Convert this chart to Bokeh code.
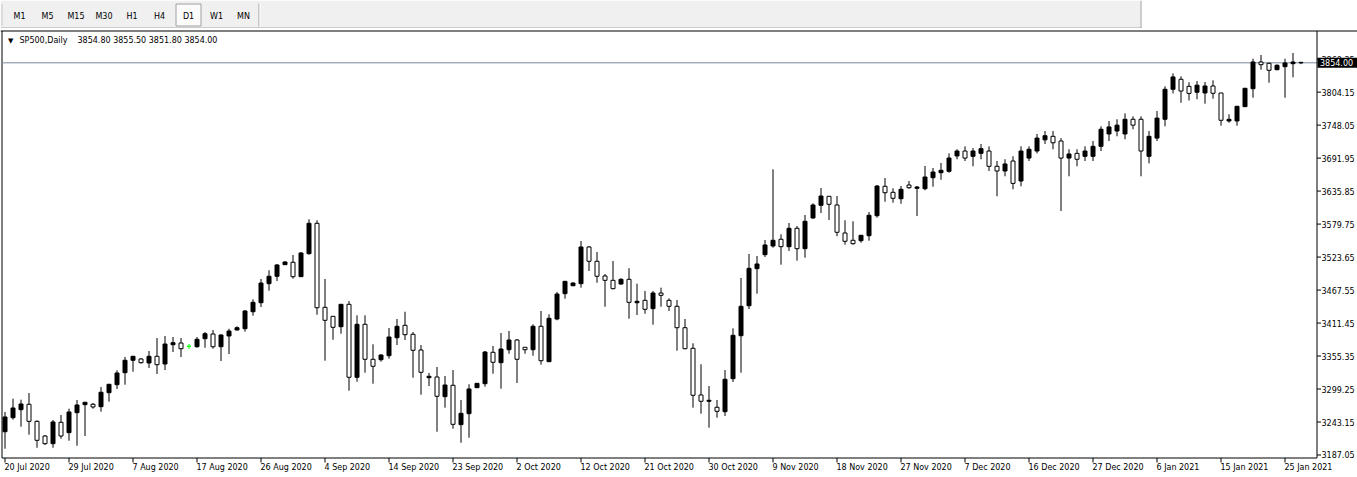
import numpy as np
from bokeh.plotting import figure
from bokeh.models import Range1d, ColumnDataSource
from bokeh.layouts import column
from bokeh.embed import file_html
from bokeh.resources import INLINE
from bokeh.core.properties import value

# ---------------- data ----------------
opens = [3226.6, 3250.5, 3264.1, 3273.3, 3244.3, 3219.3, 3206.3, 3242.6, 3225.0, 3259.0,
         3272.6, 3273.3, 3269.2, 3293.0, 3306.6, 3327.0, 3348.1, 3350.3, 3343.5, 3354.9,
         3341.8, 3374.6, 3377.5, 3371.9, 3371.2, 3384.8, 3392.8, 3371.2, 3389.4, 3399.6,
         3401.8, 3430.7, 3446.0, 3478.4, 3491.0, 3510.7, 3514.8, 3490.3, 3529.4, 3581.1,
         3438.2, 3422.9, 3405.2, 3443.3, 3319.2, 3409.3, 3349.8, 3349.1, 3355.9, 3386.5,
         3407.6, 3392.3, 3365.6, 3318.5, 3319.7, 3286.2, 3305.6, 3238.6, 3257.3, 3301.5,
         3308.3, 3361.7, 3344.0, 3366.1, 3382.6, 3370.2, 3366.1, 3405.9, 3345.7, 3418.3,
         3461.4, 3475.0, 3478.4, 3540.8, 3516.5, 3491.5, 3484.1, 3477.8, 3485.8, 3446.0,
         3450.1, 3435.9, 3462.5, 3450.1, 3439.9, 3403.5, 3368.5, 3289.1, 3278.4, 3268.2,
         3260.7, 3316.8, 3389.9, 3440.9, 3503.9, 3527.7, 3542.5, 3553.9, 3541.3, 3572.6,
         3537.9, 3590.1, 3611.7, 3627.0, 3612.2, 3564.6, 3552.2, 3551.5, 3560.0, 3594.0,
         3644.0, 3633.8, 3622.9, 3646.2, 3640.6, 3639.9, 3658.6, 3667.1, 3669.5, 3695.6,
         3704.0, 3695.0, 3700.0, 3704.0, 3678.0, 3670.0, 3687.0, 3653.0, 3692.0, 3704.0,
         3723.0, 3729.0, 3721.0, 3692.0, 3700.0, 3695.0, 3695.0, 3712.0, 3733.0, 3738.0,
         3733.0, 3758.0, 3758.0, 3695.0, 3726.0, 3758.0, 3809.0, 3826.0, 3814.0, 3804.0,
         3802.7, 3814.6, 3802.7, 3755.1, 3755.1, 3779.4, 3810.0, 3855.4, 3853.2, 3842.3,
         3847.4, 3852.5, 3854.8]
highs = [3260.2, 3282.8, 3281.1, 3292.5, 3246.0, 3221.0, 3246.6, 3255.1, 3265.8, 3280.6,
         3277.2, 3275.5, 3302.7, 3307.8, 3331.1, 3353.7, 3355.4, 3352.0, 3363.9, 3386.0,
         3389.4, 3387.7, 3386.0, 3375.8, 3387.7, 3396.2, 3399.6, 3392.3, 3401.8, 3405.9,
         3433.6, 3451.8, 3486.4, 3501.2, 3511.9, 3516.5, 3527.2, 3532.3, 3587.9, 3586.2,
         3486.4, 3422.9, 3443.3, 3448.9, 3424.6, 3424.6, 3375.3, 3358.3, 3403.0, 3418.3,
         3430.7, 3396.2, 3374.1, 3326.5, 3336.7, 3321.4, 3331.6, 3280.6, 3307.3, 3308.9,
         3363.9, 3372.4, 3394.5, 3397.9, 3384.3, 3370.2, 3409.3, 3431.9, 3426.3, 3464.2,
         3482.4, 3480.7, 3551.0, 3542.5, 3532.3, 3494.9, 3517.0, 3487.5, 3504.7, 3478.4,
         3466.0, 3466.0, 3471.6, 3453.5, 3450.6, 3418.3, 3377.0, 3341.3, 3304.4, 3280.6,
         3331.6, 3402.5, 3488.1, 3528.9, 3525.5, 3552.7, 3672.9, 3562.4, 3581.6, 3576.5,
         3595.2, 3615.1, 3641.1, 3627.5, 3627.5, 3586.2, 3584.5, 3560.7, 3600.3, 3646.2,
         3658.1, 3640.6, 3644.5, 3653.0, 3644.5, 3678.5, 3675.1, 3683.6, 3700.1, 3707.0,
         3712.0, 3709.0, 3716.0, 3712.0, 3687.0, 3690.0, 3695.0, 3712.0, 3712.0, 3733.0,
         3738.0, 3738.0, 3726.0, 3707.0, 3707.0, 3712.0, 3721.0, 3746.0, 3755.0, 3758.0,
         3768.0, 3763.0, 3763.0, 3738.0, 3772.0, 3814.0, 3836.0, 3831.0, 3821.0, 3823.0,
         3821.4, 3824.3, 3802.7, 3766.4, 3780.1, 3811.2, 3861.0, 3867.3, 3854.2, 3851.5,
         3861.0, 3870.7, 3855.5]
lows = [3197.7, 3247.1, 3235.2, 3221.6, 3199.4, 3204.0, 3199.4, 3214.8, 3211.3, 3202.8,
        3219.3, 3265.8, 3260.7, 3277.7, 3299.3, 3306.6, 3328.7, 3342.3, 3335.0, 3324.8,
        3331.6, 3362.2, 3353.7, 3367.3, 3369.5, 3369.5, 3367.8, 3346.9, 3358.8, 3399.1,
        3396.7, 3423.9, 3438.7, 3466.5, 3483.0, 3510.2, 3486.9, 3490.3, 3527.7, 3425.6,
        3347.4, 3383.1, 3393.3, 3296.4, 3311.7, 3327.0, 3308.3, 3345.7, 3350.8, 3374.1,
        3382.6, 3318.5, 3289.6, 3304.4, 3226.6, 3267.5, 3231.8, 3207.9, 3216.4, 3301.5,
        3303.2, 3325.3, 3299.8, 3359.3, 3309.5, 3359.3, 3355.9, 3340.6, 3345.7, 3416.1,
        3452.9, 3473.9, 3471.6, 3499.9, 3480.0, 3439.2, 3468.8, 3476.7, 3418.8, 3425.1,
        3427.3, 3408.6, 3439.2, 3431.9, 3364.4, 3366.8, 3267.5, 3257.3, 3233.5, 3250.5,
        3253.4, 3311.2, 3327.0, 3435.3, 3461.4, 3523.8, 3539.6, 3510.7, 3534.0, 3517.5,
        3522.6, 3588.9, 3598.6, 3586.7, 3559.0, 3544.7, 3544.7, 3548.1, 3551.5, 3590.6,
        3617.8, 3616.1, 3614.4, 3639.9, 3593.5, 3637.2, 3643.3, 3655.2, 3667.1, 3690.0,
        3687.0, 3678.0, 3690.0, 3670.0, 3627.0, 3661.0, 3639.0, 3644.0, 3687.0, 3700.0,
        3716.0, 3707.0, 3602.0, 3661.0, 3678.0, 3687.0, 3687.0, 3704.0, 3721.0, 3729.0,
        3724.0, 3741.0, 3661.0, 3683.0, 3721.0, 3746.0, 3802.0, 3786.0, 3790.0, 3792.0,
        3784.5, 3793.0, 3747.1, 3752.2, 3747.1, 3779.4, 3794.7, 3842.3, 3820.2, 3841.3,
        3794.7, 3829.4, 3851.8]
closes = [3251.7, 3267.0, 3273.8, 3244.3, 3212.0, 3206.3, 3243.2, 3219.3, 3260.2, 3272.1,
          3276.7, 3268.7, 3293.7, 3307.3, 3326.5, 3348.1, 3354.9, 3344.0, 3354.9, 3340.6,
          3375.8, 3378.0, 3367.8, 3371.9, 3383.8, 3393.3, 3371.2, 3391.1, 3397.9, 3403.5,
          3431.9, 3446.7, 3479.5, 3491.0, 3510.2, 3515.3, 3490.3, 3530.6, 3581.1, 3437.5,
          3416.1, 3404.2, 3443.3, 3319.2, 3409.3, 3349.8, 3337.9, 3357.1, 3387.7, 3405.9,
          3391.6, 3365.1, 3327.7, 3320.9, 3286.9, 3306.1, 3239.2, 3257.9, 3299.3, 3308.9,
          3362.2, 3344.7, 3367.3, 3382.6, 3349.8, 3366.1, 3405.9, 3347.4, 3419.5, 3460.8,
          3482.4, 3479.5, 3540.8, 3516.5, 3491.0, 3484.1, 3469.9, 3485.8, 3446.7, 3448.4,
          3434.8, 3462.5, 3458.6, 3439.9, 3403.5, 3367.8, 3288.6, 3278.4, 3280.1, 3261.3,
          3315.8, 3390.6, 3439.9, 3504.5, 3511.9, 3544.2, 3552.2, 3541.3, 3572.6, 3537.9,
          3584.5, 3612.2, 3627.5, 3613.4, 3565.8, 3550.5, 3546.4, 3560.7, 3594.7, 3644.5,
          3633.1, 3623.6, 3638.9, 3641.6, 3642.8, 3659.8, 3668.3, 3671.2, 3692.1, 3704.0,
          3692.0, 3704.0, 3708.0, 3678.0, 3670.0, 3682.0, 3649.0, 3704.0, 3707.0, 3726.0,
          3730.0, 3718.0, 3692.0, 3699.0, 3690.0, 3704.0, 3712.0, 3741.0, 3745.0, 3748.0,
          3758.0, 3748.0, 3704.0, 3729.0, 3760.0, 3809.0, 3830.0, 3806.0, 3802.0, 3816.0,
          3814.6, 3802.2, 3756.3, 3757.9, 3780.1, 3810.7, 3855.4, 3850.8, 3841.3, 3849.8,
          3853.7, 3855.4, 3854.0]

date_labels = ["20 Jul 2020", "29 Jul 2020", "7 Aug 2020", "17 Aug 2020", "26 Aug 2020",
               "4 Sep 2020", "14 Sep 2020", "23 Sep 2020", "2 Oct 2020", "12 Oct 2020",
               "21 Oct 2020", "30 Oct 2020", "9 Nov 2020", "18 Nov 2020", "27 Nov 2020",
               "7 Dec 2020", "16 Dec 2020", "27 Dec 2020", "6 Jan 2021", "15 Jan 2021",
               "25 Jan 2021"]
bars_per_label = 8
price_ticks = [3187.05, 3243.15, 3299.25, 3355.35, 3411.45, 3467.55, 3523.65,
               3579.75, 3635.85, 3691.95, 3748.05, 3804.15, 3860.35]
timeframes = ["M1", "M5", "M15", "M30", "H1", "H4", "D1", "W1", "MN"]
active_tf = "D1"
bid_price = 3854.00
symbol_title = "SP500,Daily"

# ---------------- layout constants (pixels) ----------------
W = 1357
H_TB = 28
H_CH = 477 - H_TB
FONT = "DejaVu Sans"
FS = "8px"
BAR_PX = 8.0            # horizontal pixels per bar
FIRST_BAR_PX = 4.5      # page x of bar 0 centre
PX_PER_PT = 0.588       # vertical pixels per price point
REF_PRICE, REF_PY = 3243.15, 421.5   # a price and its page y
FRAME_L, FRAME_R, FRAME_T, FRAME_B = 1.5, 1316.5, 30.5, 457.5

def px2x(px):
    return (px - FIRST_BAR_PX) / BAR_PX

def py2y(py):
    return REF_PRICE - (py - REF_PY) / PX_PER_PT

def dpx(n):  # n pixels expressed in price points
    return n / PX_PER_PT

# ---------------- toolbar strip ----------------
tb = figure(width=W, height=H_TB, x_range=Range1d(0, W), y_range=Range1d(H_TB, 0),
            output_backend="svg", toolbar_location=None, min_border=0,
            x_axis_location=None, y_axis_location=None)
tb.grid.visible = False
tb.outline_line_color = None
tb.background_fill_color = "#ffffff"
tb.border_fill_color = "#ffffff"
tb.quad(left=[0], right=[1140], top=[0], bottom=[27], fill_color="#f0f0f0", line_color=None)
tb.segment(x0=[0], y0=[27.5], x1=[1141], y1=[27.5], line_color="#a0a0a0", line_width=1)
tb.segment(x0=[1140.5], y0=[0], x1=[1140.5], y1=[27.5], line_color="#a0a0a0", line_width=1)
gy = list(np.arange(4.5, 25, 2.0))
tb.rect(x=[1.5] * len(gy), y=gy, width=1, height=1, fill_color="#a0a0a0", line_color=None)
tab_x = [19, 47, 75.5, 103.5, 131.5, 159, 188, 216, 243]
ai = timeframes.index(active_tf)
tb.quad(left=[175.5], right=[200.5], top=[3.5], bottom=[25.5],
        fill_color="#fbfbfb", line_color="#a0a0a0", line_width=1)
tb.text(x=tab_x, y=[15.5] * len(timeframes), text=timeframes, text_align="center",
        text_baseline="middle", text_font=value(FONT), text_font_size=FS, text_color="#000000")
tb.segment(x0=[258.5], y0=[3], x1=[258.5], y1=[26], line_color="#a0a0a0", line_width=1)
tb.segment(x0=[259.5], y0=[3], x1=[259.5], y1=[26], line_color="#ffffff", line_width=1)

# ---------------- chart ----------------
x_lo = px2x(0)
x_hi = px2x(W)
y_hi = py2y(H_TB)
y_lo = py2y(477)

n = len(opens)
idx = np.arange(n)
o = np.array(opens); c = np.array(closes); h = np.array(highs); l = np.array(lows)
body_fill = np.where(c > o, "#000000", "#ffffff")
line_col = np.where(c == o, "#00ff00", "#000000")
body_fill = np.where(c == o, "#00ff00", body_fill)
src = ColumnDataSource(dict(x=idx, o=o, c=c, h=h, l=l, top=np.maximum(o, c), bot=np.minimum(o, c),
                            fill=body_fill, line=line_col))

p = figure(width=W, height=H_CH, x_range=Range1d(x_lo, x_hi), y_range=Range1d(y_lo, y_hi),
           output_backend="svg", toolbar_location=None, min_border=0,
           x_axis_location=None, y_axis_location=None)
p.grid.visible = False
p.outline_line_color = None
p.background_fill_color = "#ffffff"
p.border_fill_color = "#ffffff"

# window / frame lines
p.segment(x0=[px2x(0)], y0=[py2y(FRAME_T)], x1=[px2x(W)], y1=[py2y(FRAME_T)], line_color="#000000", line_width=1)
p.segment(x0=[px2x(FRAME_L)], y0=[py2y(FRAME_T)], x1=[px2x(FRAME_L)], y1=[py2y(FRAME_B)], line_color="#000000", line_width=1)

# bid line
p.segment(x0=[px2x(FRAME_L)], y0=[bid_price], x1=[px2x(FRAME_R)], y1=[bid_price], line_color="#778899", line_width=1)

# candles
p.segment(x0="x", y0="l", x1="x", y1="h", line_color="line", line_width=1, source=src)
p.vbar(x="x", width=4 / BAR_PX, top="top", bottom="bot", fill_color="fill", line_color="line",
       line_width=1, source=src)

# title inside the chart
p.text(x=[px2x(7.5)], y=[py2y(40)], text=["\u25bc"], text_baseline="middle",
       text_font=value(FONT), text_font_size="7px", text_color="#000000")
p.text(x=[px2x(19)], y=[py2y(40)], text=[symbol_title], text_baseline="middle",
       text_font=value(FONT), text_font_size=FS, text_color="#000000")
p.text(x=[px2x(77)], y=[py2y(40)],
       text=[f"{opens[-1]:.2f} {highs[-1]:.2f} {lows[-1]:.2f} {closes[-1]:.2f}"],
       text_baseline="middle", text_font=value(FONT), text_font_size=FS, text_color="#000000")

# price axis (right)
p.segment(x0=[px2x(FRAME_R)], y0=[py2y(FRAME_T)], x1=[px2x(FRAME_R)], y1=[py2y(FRAME_B)],
          line_color="#000000", line_width=1)
p.segment(x0=[px2x(FRAME_R)] * len(price_ticks), y0=price_ticks,
          x1=[px2x(FRAME_R + 4)] * len(price_ticks), y1=price_ticks, line_color="#000000", line_width=1)
p.text(x=[px2x(FRAME_R + 4.5)] * len(price_ticks), y=price_ticks,
       text=[f"{t:.2f}" for t in price_ticks], text_baseline="middle", text_align="left",
       text_font=value(FONT), text_font_size=FS, text_color="#000000")

# bid price box
p.quad(left=[px2x(FRAME_R + 0.5)], right=[px2x(W)], top=[bid_price + dpx(5)], bottom=[bid_price - dpx(5)],
       fill_color="#000000", line_color=None)
p.text(x=[px2x(FRAME_R + 3)], y=[bid_price], text=[f"{bid_price:.2f}"], text_baseline="middle",
       text_align="left", text_font=value(FONT), text_font_size=FS, text_color="#ffffff")

# time axis (bottom)
p.segment(x0=[px2x(FRAME_L)], y0=[py2y(FRAME_B)], x1=[px2x(FRAME_R)], y1=[py2y(FRAME_B)],
          line_color="#000000", line_width=1)
tick_bars = [bars_per_label * k for k in range(len(date_labels))]
p.segment(x0=tick_bars, y0=[py2y(FRAME_B)] * len(tick_bars), x1=tick_bars,
          y1=[py2y(FRAME_B + 4.5)] * len(tick_bars), line_color="#000000", line_width=1)
p.text(x=[t - 0.5 / BAR_PX for t in tick_bars], y=[py2y(466.5)] * len(tick_bars), text=date_labels,
       text_baseline="middle", text_align="left", text_font=value(FONT), text_font_size=FS,
       text_color="#000000")

layout = column(tb, p, spacing=0)
open("out.html", "w").write(file_html(layout, INLINE))
